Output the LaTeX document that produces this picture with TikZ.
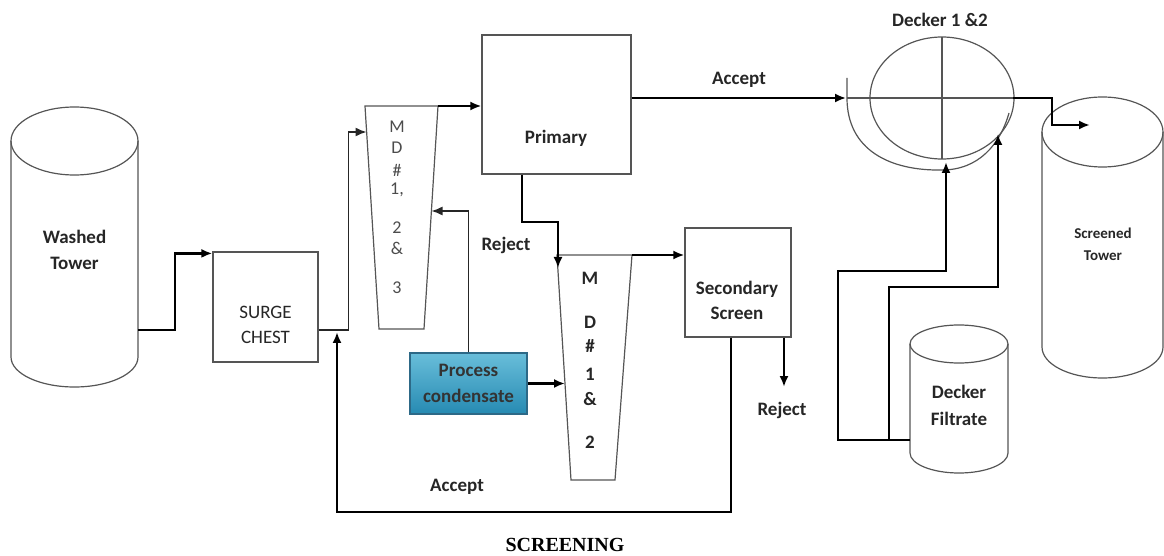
\documentclass[tikz,border=0pt]{standalone}
\usepackage{fontspec}
\setmainfont{Carlito}
\newfontfamily\titlefont{Liberation Serif}
\usetikzlibrary{calc, arrows.meta}
\tikzset{>={Latex[length=5.5pt, width=4.5pt]}}
\definecolor{mygray}{RGB}{85, 85, 85}
\definecolor{mytealtop}{RGB}{105, 190, 218}
\definecolor{mytealbot}{RGB}{38, 138, 178}
\definecolor{mytealedge}{RGB}{45, 105, 135}

\begin{document}
\begin{tikzpicture}[x = 0.5pt, y = -0.5pt,
  unit/.style = {draw = mygray, line width = 0.6pt},
  box/.style = {unit, rectangle, inner sep = 0pt},
  lbl/.style = {font = \fontsize{9.5}{13}\selectfont\bfseries, text = black!85, align = center, inner sep = 0pt},
  mdtxt/.style = {font = \fontsize{9}{10}\selectfont, text = black!70, inner sep = 0pt},
  thinflow/.style = {->, draw = black!85, line width = 0.7pt},
  flow/.style = {->, draw = black, line width = 1.4pt}]

\useasboundingbox (0,0) rectangle (1164,556);

% washed tower
\draw[unit] (74.5,141) ellipse[x radius = 63.5, y radius = 34];
\draw[unit] (11,141) -- (11,357) arc[start angle = 180, end angle = 0, x radius = 63.5, y radius = 30] -- (138,141);
\node[lbl] (washed) at (74.5,250) {Washed\\Tower};
\coordinate (wt out) at (138,330);

% surge chest
\node[box, minimum width = 52.5pt, minimum height = 55pt] (surge) at (265.5,307) {};
\node[lbl, font = \fontsize{9.5}{12.5}\selectfont] (surgetxt) at (265.5,325) {SURGE\\CHEST};
\draw[flow] (wt out) -- ++(37,0) |- ($(surge.north west)+(0,2)$);

% MD # 1, 2 & 3
\coordinate (md1 nw) at (365,106);
\coordinate (md1 ne) at (438,106);
\coordinate (md1 se) at (424,329);
\coordinate (md1 sw) at (379,329);
\coordinate (md1 in) at (366.5,132);
\coordinate (md1 back) at (431.5,211);
\draw[unit] (md1 nw) -- (md1 ne) -- (md1 se) -- (md1 sw) -- cycle;
\foreach \ch/\yy [count = \i] in {M/127, D/148, \#/170, {1,}/190, 2/228, \&/248, 3/288}
  \node[mdtxt] (mda\i) at (397,\yy) {\ch};
\draw[thinflow] ($(surge.east)+(0,23)$) -- ++(30,0) |- (md1 in);

% primary
\node[box, minimum width = 74.5pt, minimum height = 69.5pt] (primary) at (556.5,104.5) {};
\node[lbl] (primarytxt) at (556,138) {Primary};
\draw[flow] (md1 ne) -- (primary.west |- md1 ne);

% decker 1 & 2
\coordinate (decker) at (942,98);
\coordinate (dk in) at (846,98);
\coordinate (dk out) at (1013,98);
\coordinate (dk bot) at (946,162);
\coordinate (dk rim) at (998,134);
\draw[unit] (decker) ellipse[x radius = 72, y radius = 61];
\draw[unit] (942,37) -- (942,159);
\draw[unit] (847,98) -- (dk out);
\draw[unit] (847,78) -- (847,98) .. controls (847,150) and (890,171) .. (942,170) .. controls (978,170) and (1000,145) .. (1009,113);
\node[lbl] (deckertxt) at (940,20) {Decker 1 \&2};
\draw[->, draw = black, line width = 1pt] (primary.east |- dk in) -- (dk in);
\node[lbl] (accept1) at (739,80) {Accept};

% screened tower
\draw[unit] (1102.5,132) ellipse[x radius = 60.5, y radius = 35];
\draw[unit] (1042,132) -- (1042,347) arc[start angle = 180, end angle = 0, x radius = 60.5, y radius = 31] -- (1163,132);
\node[lbl, font = \fontsize{7.5}{11}\selectfont\bfseries] (screened) at (1103,244) {Screened\\Tower};
\draw[flow] (dk out) -- (1052,98) |- (1090,125);

% decker filtrate
\draw[unit, fill = white] (959,344) ellipse[x radius = 49, y radius = 19];
\draw[unit] (910,344) -- (910,453) arc[start angle = 180, end angle = 0, x radius = 49, y radius = 20] -- (1008,344);
\node[lbl, font = \fontsize{9.5}{13.5}\selectfont\bfseries] (filtrate) at (959,405) {Decker\\Filtrate};
\coordinate (df out) at (910,440);
\draw[flow] (df out) -- (838,440) |- (946,271) -- (dk bot);
\draw[flow] (df out) -- (889,440) |- (998,287) -- (dk rim);

% MD # 1 & 2
\coordinate (md2 nw) at (557,255);
\coordinate (md2 ne) at (632,255);
\coordinate (md2 se) at (615,480);
\coordinate (md2 sw) at (571,480);
\coordinate (md2 in) at (565,384);
\draw[unit] (md2 nw) -- (md2 ne) -- (md2 se) -- (md2 sw) -- cycle;
\foreach \ch/\yy [count = \i] in {M/278, D/322, \#/346, 1/374, \&/399, 2/442}
  \node[mdtxt, font = \fontsize{9.5}{10}\selectfont\bfseries, text = black!85] (mdb\i) at (590,\yy) {\ch};
\draw[flow] (primary.south -| 522,0) -- (522,222) -| (558,268);
\node[lbl] (reject1) at (506,245) {Reject};

% secondary screen
\node[box, minimum width = 53pt, minimum height = 54.5pt] (secondary) at (738,282.5) {};
\node[lbl, font = \fontsize{9.5}{12.5}\selectfont\bfseries] (secondarytxt) at (737,300) {Secondary\\Screen};
\draw[flow] (md2 ne) -- (secondary.west |- md2 ne);
\draw[flow] (secondary.south -| 784,0) -- (784,387);
\node[lbl] (reject2) at (782,410) {Reject};
\draw[flow] (secondary.south -| 731,0) -- (731,512) -| (337,332);
\node[lbl] (accept2) at (457,487) {Accept};

% process condensate
\node[rectangle, draw = mytealedge, line width = 0.6pt, top color = mytealtop, bottom color = mytealbot,
  minimum width = 58.5pt, minimum height = 30.5pt, inner sep = 0pt, align = center,
  font = \fontsize{9.5}{13}\selectfont\bfseries, text = black!80] (pc) at (468.5,383.5) {Process\\condensate};
\draw[thinflow] (pc.north) |- (md1 back);
\draw[flow] (pc.east) -- (pc.east -| md2 in);

\node[font = \titlefont\bfseries\fontsize{10}{12}\selectfont] (title) at (565,545) {SCREENING};

\end{tikzpicture}
\end{document}
